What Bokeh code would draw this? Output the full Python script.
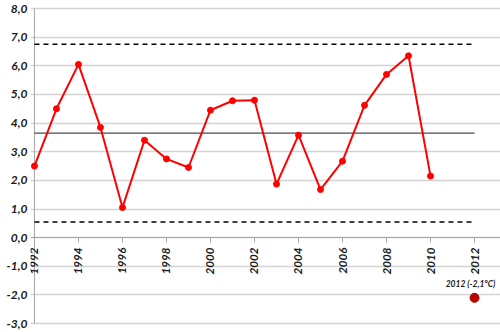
import math
from bokeh.plotting import figure
from bokeh.models import ColumnDataSource, FixedTicker, Label
from bokeh.embed import file_html
from bokeh.resources import INLINE

years = [1992, 1993, 1994, 1995, 1996, 1997, 1998, 1999, 2000, 2001,
         2002, 2003, 2004, 2005, 2006, 2007, 2008, 2009, 2010]
temps = [2.5, 4.5, 6.05, 3.85, 1.05, 3.4, 2.75, 2.45, 4.45, 4.78,
         4.8, 1.87, 3.58, 1.68, 2.67, 4.62, 5.7, 6.35, 2.15]
mean_value = 3.65
upper_value = 6.75
lower_value = 0.55
line_span = [1992, 2012]
axis_year = [1992, 1992]
axis_span = [-3, 8]
point_year = [2012]
point_temp = [-2.1]
point_label = "2012 (-2,1°C)"
x_ticks = [1992, 1994, 1996, 1998, 2000, 2002, 2004, 2006, 2008, 2010, 2012]
y_ticks = [-3, -2, -1, 0, 1, 2, 3, 4, 5, 6, 7, 8]

FONT = "Lato"

p = figure(width=500, height=332, output_backend="svg", toolbar_location=None,
           x_range=(1991.82, 2013.18), y_range=(-3.31, 8.28),
           min_border_top=0, min_border_bottom=0, min_border_right=0, min_border_left=30)
p.outline_line_color = None
p.background_fill_color = "white"

# axes
p.xaxis.fixed_location = 0
p.xaxis.ticker = FixedTicker(ticks=x_ticks)
p.xaxis.major_label_overrides = {t: str(t) for t in x_ticks}
p.xaxis.major_label_orientation = math.pi / 2
p.xaxis.axis_line_color = "#a6a6a6"
p.xaxis.major_tick_line_color = "#a6a6a6"
p.xaxis.major_tick_out = 5
p.xaxis.major_tick_in = 0
p.xaxis.minor_tick_line_color = None
p.xaxis.major_label_text_font = FONT
p.xaxis.major_label_text_font_style = "bold italic"
p.xaxis.major_label_text_font_size = "11.5px"
p.xaxis.major_label_text_color = "#1a1a1a"

p.yaxis.ticker = FixedTicker(ticks=y_ticks)
p.yaxis.major_label_overrides = {t: f"{t:.1f}".replace(".", ",") for t in y_ticks}
p.yaxis.axis_line_color = None
p.yaxis.major_tick_line_color = None
p.yaxis.major_tick_out = 0
p.yaxis.major_tick_in = 0
p.yaxis.major_label_standoff = 3
p.yaxis.minor_tick_line_color = None
p.yaxis.major_label_text_font = FONT
p.yaxis.major_label_text_font_style = "bold italic"
p.yaxis.major_label_text_font_size = "12px"
p.yaxis.major_label_text_color = "#1a1a1a"

p.xgrid.grid_line_color = None
p.ygrid.ticker = FixedTicker(ticks=y_ticks)
p.ygrid.grid_line_color = "#d4d4d4"
p.ygrid.grid_line_width = 1.5

# vertical axis line at 1992
p.line(axis_year, axis_span, line_color="#a6a6a6", line_width=1)

# reference lines
p.line(line_span, [mean_value, mean_value], line_color="#4d4d4d", line_width=1.3)
p.line(line_span, [upper_value, upper_value], line_color="black", line_width=1.5, line_dash="5 4")
p.line(line_span, [lower_value, lower_value], line_color="black", line_width=1.5, line_dash="5 4")

# series
src = ColumnDataSource(dict(x=years, y=temps))
p.line("x", "y", source=src, line_color="#ff0000", line_width=2)
p.scatter("x", "y", source=src, size=6, fill_color="#ff0000", line_color="#ff0000")

# 2012 point
p.scatter(point_year, point_temp, size=9, fill_color="#c00000", line_color="#a00000")
p.add_layout(Label(x=point_year[0], y=point_temp[0], text=point_label,
                   x_offset=-4, y_offset=9, text_align="center",
                   text_font=FONT, text_font_style="bold italic",
                   text_font_size="8.5px", text_color="#1a1a1a"))

open("out.html", "w").write(file_html(p, INLINE))
